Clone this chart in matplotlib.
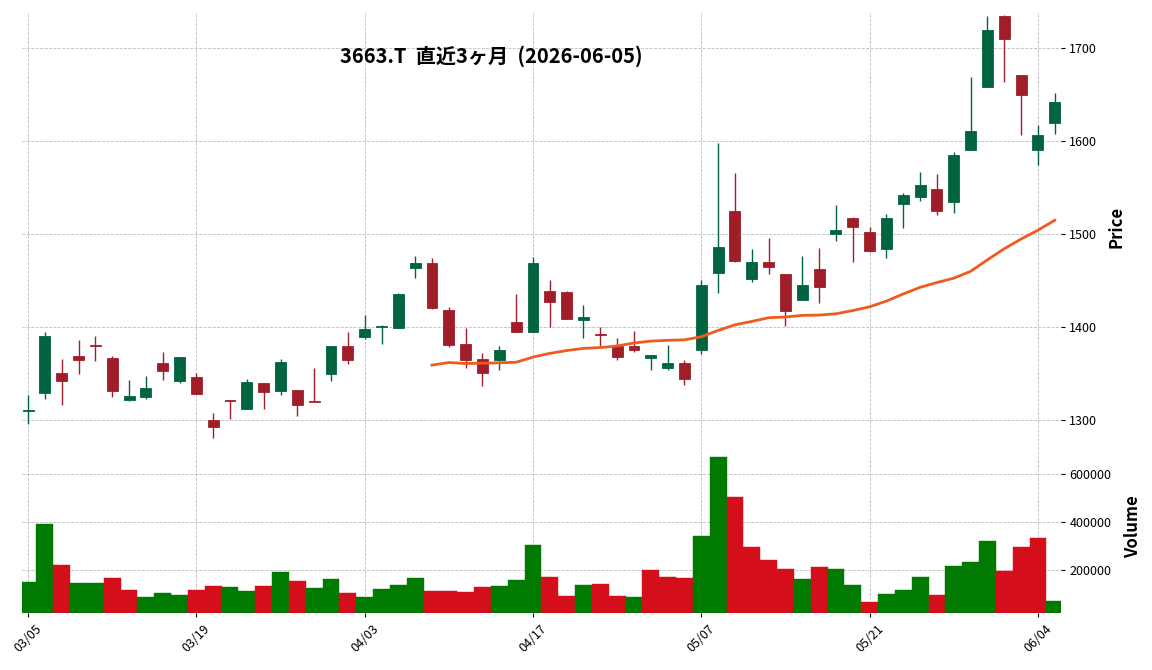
# Candlestick chart with 25-day MA and volume, 3663.T (last 3 months)
import numpy as np
import pandas as pd
import matplotlib
matplotlib.use("Agg")
import matplotlib.pyplot as plt
from matplotlib.ticker import MultipleLocator

plt.rcParams['font.family'] = ['Noto Sans CJK JP', 'DejaVu Sans']

dates = ["03/05", "03/06", "03/09", "03/10", "03/11", "03/12", "03/13", "03/16", "03/17", "03/18",
         "03/19", "03/23", "03/24", "03/25", "03/26", "03/27", "03/30", "03/31", "04/01", "04/02",
         "04/03", "04/06", "04/07", "04/08", "04/09", "04/10", "04/13", "04/14", "04/15", "04/16",
         "04/17", "04/20", "04/21", "04/22", "04/23", "04/24", "04/27", "04/28", "04/30", "05/01",
         "05/07", "05/08", "05/11", "05/12", "05/13", "05/14", "05/15", "05/18", "05/19", "05/20",
         "05/21", "05/22", "05/25", "05/26", "05/27", "05/28", "05/29", "06/01", "06/02", "06/03",
         "06/04", "06/05"]

opens = [1310, 1329, 1350, 1369, 1381, 1367, 1321, 1325, 1361, 1342,
         1346, 1300, 1321, 1312, 1340, 1331, 1332, 1320, 1349, 1380,
         1389, 1400, 1399, 1463, 1469, 1418, 1382, 1366, 1365, 1405,
         1395, 1439, 1438, 1407, 1392, 1379, 1380, 1367, 1356, 1361,
         1375, 1458, 1525, 1452, 1470, 1457, 1429, 1462, 1500, 1517,
         1502, 1484, 1532, 1540, 1548, 1534, 1590, 1658, 1735, 1671,
         1590, 1619]
highs = [1327, 1395, 1366, 1386, 1390, 1369, 1343, 1347, 1373, 1368,
         1350, 1308, 1321, 1344, 1340, 1366, 1332, 1356, 1380, 1395,
         1413, 1402, 1437, 1476, 1474, 1422, 1399, 1372, 1379, 1436,
         1475, 1451, 1439, 1424, 1400, 1388, 1396, 1370, 1381, 1365,
         1451, 1598, 1566, 1484, 1496, 1457, 1476, 1485, 1531, 1518,
         1508, 1522, 1544, 1567, 1565, 1588, 1669, 1734, 1736, 1671,
         1617, 1652]
lows = [1296, 1323, 1316, 1349, 1363, 1325, 1320, 1323, 1343, 1340,
        1328, 1281, 1301, 1312, 1312, 1327, 1304, 1319, 1342, 1360,
        1387, 1382, 1399, 1453, 1419, 1378, 1356, 1337, 1354, 1395,
        1395, 1400, 1409, 1388, 1379, 1365, 1373, 1354, 1354, 1338,
        1371, 1437, 1470, 1448, 1457, 1401, 1429, 1426, 1492, 1470,
        1481, 1474, 1506, 1535, 1520, 1523, 1590, 1658, 1663, 1607,
        1574, 1608]
closes = [1311, 1390, 1342, 1365, 1379, 1331, 1326, 1334, 1353, 1368,
          1328, 1292, 1320, 1341, 1330, 1362, 1316, 1319, 1380, 1364,
          1398, 1401, 1435, 1469, 1420, 1381, 1364, 1350, 1375, 1395,
          1469, 1427, 1409, 1411, 1391, 1368, 1375, 1370, 1361, 1344,
          1445, 1486, 1471, 1470, 1464, 1417, 1445, 1443, 1504, 1507,
          1482, 1517, 1542, 1553, 1525, 1585, 1611, 1719, 1710, 1650,
          1607, 1642]
volumes = [150000, 392000, 221000, 146000, 146000, 167000, 117000, 87500, 104000, 96000,
           117000, 133000, 129000, 112500, 133000, 192000, 154000, 125000, 162500, 104000,
           87500, 121000, 137500, 167000, 112500, 112500, 108000, 129000, 133000, 158000,
           304000, 171000, 92000, 137500, 142000, 92000, 87500, 200000, 171000, 167000,
           342000, 671000, 504000, 296000, 242000, 204000, 162500, 212500, 204000, 137500,
           67000, 100000, 117000, 171000, 96000, 217000, 233000, 321000, 196000, 296000,
           333000, 71000]

tick_idx = [0, 10, 20, 30, 40, 50, 60]
title = "3663.T  直近3ヶ月  (2026-06-05)"

o = np.array(opens, float)
h = np.array(highs, float)
l = np.array(lows, float)
c = np.array(closes, float)
v = np.array(volumes, float)
x = np.arange(len(c))
mav = pd.Series(c).rolling(25).mean()

up_c, dn_c = '#00643e', '#a01e2a'
vup_c, vdn_c = '#007a00', '#d40f1b'
grid_kw = dict(color='#bdbdbd', linestyle='--', linewidth=0.6)

fig = plt.figure(figsize=(11.52, 6.70), dpi=100)
ax = fig.add_axes([0.0188, 0.3418, 0.9022, 0.6402])
axv = fig.add_axes([0.0188, 0.0851, 0.9022, 0.2567], sharex=ax)

# candles
up = c >= o
col = np.where(up, up_c, dn_c)
ax.vlines(x, l, h, colors=col, linewidth=1.0, zorder=2)
ax.bar(x, np.abs(c - o), bottom=np.minimum(o, c), width=0.65, color=col,
       edgecolor=col, linewidth=0.6, zorder=3)
ax.plot(x, mav, color='#f05a1e', linewidth=2.0, zorder=4)

# volume coloured by close vs previous close
vcol = [vup_c] + [vup_c if c[i] >= c[i - 1] else vdn_c for i in range(1, len(c))]
axv.bar(x, v, width=1.0, color=vcol, edgecolor=vcol, linewidth=0.3, zorder=3)

rng = h.max() - l.min()
ax.set_ylim(l.min() - 0.008 * rng, h.max() + 0.006 * rng)
axv.set_ylim(0.3 * v.min(), 1.1 * v.max())
ax.set_xlim(-0.38, len(c) - 1 + 0.37)

for a in (ax, axv):
    for s in a.spines.values():
        s.set_visible(False)
    a.yaxis.tick_right()
    a.grid(True, **grid_kw)
    a.set_axisbelow(True)
    a.tick_params(axis='y', labelsize=9, length=3, pad=3)

ax.yaxis.set_major_locator(MultipleLocator(100))
axv.yaxis.set_major_locator(MultipleLocator(200000))
axv.ticklabel_format(axis='y', style='plain', useOffset=False)

axv.set_xticks(tick_idx)
axv.set_xticklabels([dates[i] for i in tick_idx], rotation=45, fontsize=9)
axv.tick_params(axis='x', length=3)
ax.tick_params(axis='x', bottom=False, labelbottom=False)

ax.set_ylabel("Price", fontsize=12, fontweight='bold')
ax.yaxis.set_label_position('right')
ax.yaxis.set_label_coords(1.045, 0.5)
axv.set_ylabel("Volume", fontsize=12, fontweight='bold')
axv.yaxis.set_label_position('right')
axv.yaxis.set_label_coords(1.061, 0.5)

fig.text(491 / 1152, 1 - 56 / 670, title, ha='center', va='center',
         fontsize=14.5, fontweight='bold')

fig.savefig('out.png', dpi=100)
